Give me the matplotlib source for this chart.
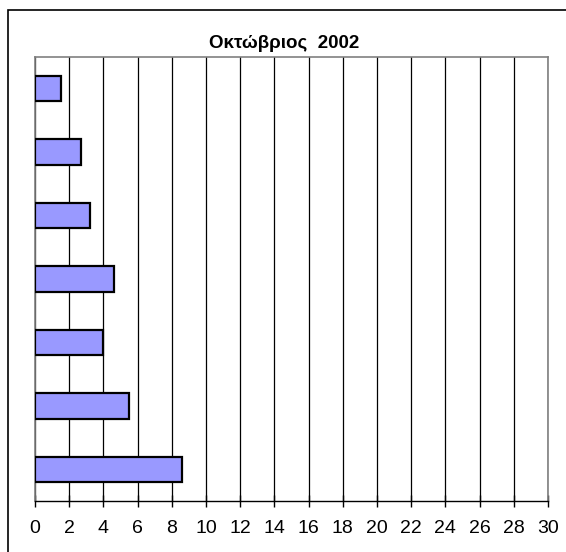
import matplotlib
matplotlib.use("Agg")
import matplotlib.pyplot as plt
from matplotlib.patches import Rectangle

plt.rcParams['font.family'] = ['Liberation Sans', 'DejaVu Sans']

title = "Οκτώβριος  2002"
categories = ["1", "2", "3", "4", "5", "6", "7"]  # top to bottom, no labels shown
values = [1.5, 2.7, 3.2, 4.6, 4.0, 5.5, 8.6]
xticks = list(range(0, 31, 2))

W, H = 566, 552
fig = plt.figure(figsize=(W / 100, H / 100), dpi=100)
fig.patch.set_facecolor("white")

# outer frame (runs off right and bottom edges)
fig.patches.append(Rectangle((8 / W, -0.05), 1.2, 1 - 10 / H + 0.05,
                             transform=fig.transFigure, fill=False,
                             edgecolor="black", linewidth=1.2, clip_on=False))

left, right = 35 / W, 548 / W
top, bottom = 1 - 57 / H, 1 - 501 / H
ax = fig.add_axes([left, bottom, right - left, top - bottom])

n = len(values)
ypos = list(range(n))[::-1]
ax.barh(ypos, values, height=0.4, color="#9999FF", edgecolor="black",
        linewidth=1.6, zorder=3)

ax.set_xlim(0, 30)
ax.set_ylim(-0.5, n - 0.5)
ax.set_xticks(xticks)
ax.set_xticklabels([str(t) for t in xticks], fontsize=14)
ax.set_yticks([])
ax.xaxis.grid(True, color="black", linewidth=0.9, zorder=1)
ax.set_axisbelow(True)
ax.tick_params(axis="x", direction="inout", length=9, width=1, pad=9)

for s in ["top", "right", "left"]:
    ax.spines[s].set_color("#808080")
    ax.spines[s].set_linewidth(1.2)
ax.spines["bottom"].set_color("black")
ax.spines["bottom"].set_linewidth(1.0)

fig.text(284 / W, 1 - 44 / H, title, ha="center", va="center",
         fontsize=13.5, fontweight="bold")

fig.savefig("out.png", dpi=100)
